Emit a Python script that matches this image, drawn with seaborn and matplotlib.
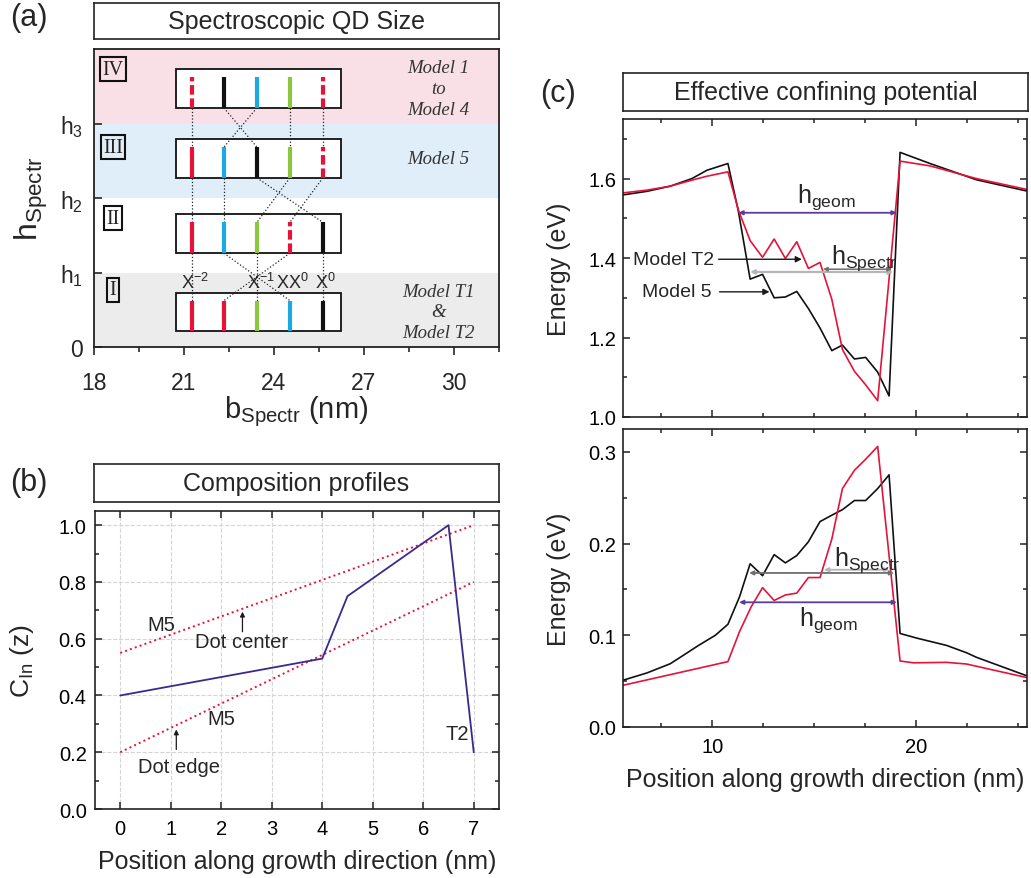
import numpy as np
import pandas as pd
import matplotlib
matplotlib.use("Agg")
import matplotlib.pyplot as plt
import seaborn as sns
from matplotlib.ticker import MultipleLocator, FormatStrFormatter
from matplotlib.patches import Rectangle

sns.set_theme(style="ticks")
plt.rcParams['font.family'] = ['Liberation Sans', 'DejaVu Sans']
plt.rcParams['mathtext.fontset'] = 'custom'
plt.rcParams['mathtext.rm'] = 'Liberation Sans'
plt.rcParams['mathtext.it'] = 'Liberation Sans:italic'
plt.rcParams['mathtext.bf'] = 'Liberation Sans:bold'

# ------------------------------------------------------------------ data
# (a) spectroscopic QD size schematic
a_xticks = [18, 21, 24, 27, 30]
a_yticks = [0, 1, 2, 3]
a_ytick_labels = ['0', r'h$_1$', r'h$_2$', r'h$_3$']
a_levels = ['IV', 'III', 'II', 'I']
a_band_lower = [3, 2, 1, 0]
a_band_colors = ['#f8e0e6', '#e0eef9', '#ffffff', '#ececec']
a_box_center = [3.47, 2.53, 1.52, 0.47]
a_line_x = [21.27, 22.33, 23.43, 24.53, 25.63]
a_codes = {
    'IV':  ['Rd', 'K', 'C', 'G', 'Rd'],
    'III': ['R', 'C', 'K', 'G', 'Rd'],
    'II':  ['R', 'C', 'G', 'Rd', 'K'],
    'I':   ['R', 'R', 'G', 'C', 'K'],
}
# connections: index in upper box -> index in lower box
a_links = [
    [0, 2, 1, 3, 4],   # IV -> III
    [0, 1, 4, 2, 3],   # III -> II
    [0, 3, 2, 1, 4],   # II -> I
]
a_models = ['Model 1\nto\nModel 4', 'Model 5', '', 'Model T1\n&\nModel T2']
a_exciton_labels = [r'X$^{-2}$', r'X$^{-1}$', r'XX$^{0}$', r'X$^{0}$']
a_exciton_x = [21.37, 23.55, 24.62, 25.72]

# (b) composition profiles
b_pos_T2 = [0, 4, 4.5, 6.5, 7]
b_cin_T2 = [0.40, 0.53, 0.75, 1.00, 0.20]
b_pos_M5 = [0, 7]
b_cin_M5_center = [0.55, 1.00]
b_cin_M5_edge = [0.20, 0.80]

# (c) effective confining potential - electrons (top)
c_x_e_M5 = [5.62, 6.8, 7.94, 9.0, 9.74, 10.77, 11.29, 11.86, 12.47, 13.04, 13.59,
            14.15, 14.72, 15.29, 15.87, 16.39, 16.98, 17.53, 18.12, 18.68, 19.22,
            20.69, 22.97, 25.42]
c_e_M5 = [1.559, 1.568, 1.581, 1.600, 1.621, 1.638, 1.516, 1.347, 1.359, 1.300, 1.302,
          1.316, 1.273, 1.224, 1.167, 1.181, 1.146, 1.150, 1.113, 1.053, 1.666,
          1.638, 1.597, 1.569]
c_x_e_T2 = [5.62, 6.8, 7.94, 9.0, 9.74, 10.77, 11.29, 11.86, 12.47, 13.04, 13.59,
            14.15, 14.72, 15.29, 15.87, 16.39, 16.98, 17.53, 18.12, 19.22,
            20.69, 22.97, 25.42]
c_e_T2 = [1.564, 1.571, 1.581, 1.596, 1.606, 1.617, 1.520, 1.444, 1.402, 1.448, 1.399,
          1.441, 1.374, 1.389, 1.296, 1.170, 1.115, 1.081, 1.041, 1.644,
          1.632, 1.600, 1.573]
# holes (bottom)
c_x_h_M5 = [5.62, 6.8, 7.94, 8.43, 9.33, 10.15, 10.77, 11.34, 11.86, 12.47, 13.04,
            13.59, 14.15, 14.72, 15.29, 15.87, 16.39, 16.98, 17.53, 18.12, 18.68,
            19.22, 20.03, 21.5, 22.48, 22.97, 25.42]
c_h_M5 = [0.051, 0.059, 0.069, 0.076, 0.089, 0.100, 0.112, 0.142, 0.178, 0.165, 0.188,
          0.179, 0.187, 0.202, 0.224, 0.231, 0.237, 0.247, 0.247, 0.260, 0.275,
          0.102, 0.097, 0.089, 0.081, 0.076, 0.056]
c_x_h_T2 = [5.62, 7.94, 10.77, 11.34, 11.91, 12.47, 13.04, 13.59, 14.15, 14.72, 15.29,
            15.87, 16.39, 16.98, 17.53, 18.12, 19.22, 19.87, 21.5, 22.48, 25.42]
c_h_T2 = [0.0455, 0.0571, 0.0713, 0.104, 0.131, 0.152, 0.138, 0.144, 0.146, 0.163, 0.163,
          0.205, 0.260, 0.280, 0.292, 0.306, 0.072, 0.070, 0.0705, 0.0687, 0.054]

# ------------------------------------------------------------------ figure
W, H = 1031, 879
fig = plt.figure(figsize=(W / 100, H / 100), dpi=100)

RED = '#e5133a'
CYAN = '#1ca8e3'
GREEN = '#8dc63f'
BLACK = '#111111'
PURPLE = '#5a3b9e'
color_map = {'R': RED, 'Rd': RED, 'K': BLACK, 'C': CYAN, 'G': GREEN}

TITLE_FS = 18
LABEL_FS = 18
TICK_FS = 14.5
ANNOT_FS = 14.5


def frac(x0, y0, x1, y1):
    return [x0 / W, 1 - y1 / H, (x1 - x0) / W, (y1 - y0) / H]


def title_box(rect, text):
    ax = fig.add_axes(rect)
    ax.set_xticks([])
    ax.set_yticks([])
    for s in ax.spines.values():
        s.set_linewidth(1.2)
        s.set_color('#222222')
    ax.text(0.5, 0.5, text, ha='center', va='center', fontsize=TITLE_FS,
            transform=ax.transAxes)
    return ax


def style_in(ax, labelsize=TICK_FS, xpad=7, ypad=5):
    ax.tick_params(which='both', direction='in', top=True, right=True,
                   width=1.1, colors='#222222', labelcolor='black')
    ax.tick_params(which='major', length=5)
    ax.tick_params(which='minor', length=3)
    ax.tick_params(axis='x', labelsize=labelsize, pad=xpad)
    ax.tick_params(axis='y', labelsize=labelsize, pad=ypad)
    for s in ax.spines.values():
        s.set_linewidth(1.2)
        s.set_color('#222222')


# ---------------- panel (a)
title_box(frac(94, 4, 499, 40), 'Spectroscopic QD Size')
axA = fig.add_axes(frac(94, 50, 499, 348))
axA.set_xlim(18, 31.5)
axA.set_ylim(0, 4)
for lo, c in zip(a_band_lower, a_band_colors):
    axA.axhspan(lo, lo + 1, color=c, lw=0, zorder=0)

half_h = 0.26
line_gap = 0.107
for lev, yc in zip(a_levels, a_box_center):
    axA.add_patch(Rectangle((20.73, yc - half_h), 5.5, 2 * half_h, fc='white',
                            ec='#111111', lw=1.3, zorder=2))
    for xi, code in zip(a_line_x, a_codes[lev]):
        ln, = axA.plot([xi, xi], [yc - half_h, yc + half_h - line_gap],
                       color=color_map[code], lw=3.0, solid_capstyle='butt',
                       zorder=4)
        if code == 'Rd':
            ln.set_dashes((2.3, 0.9))
            ln.set_dash_capstyle('butt')

for k, links in enumerate(a_links):
    y_top = a_box_center[k] - half_h
    y_bot = a_box_center[k + 1] + half_h - line_gap
    for i, j in enumerate(links):
        axA.plot([a_line_x[i], a_line_x[j]], [y_top, y_bot], ls=':',
                 color='#222222', lw=0.9, zorder=3)

for lab, xx in zip(a_exciton_labels, a_exciton_x):
    axA.text(xx, 0.87, lab, ha='center', va='center', fontsize=13, zorder=5)

for txt, yc in zip(a_models, a_box_center):
    if txt:
        axA.text(29.47, yc, txt, ha='center', va='center', fontsize=13.5,
                 family='Liberation Serif', style='italic', color='#333333',
                 linespacing=1.3)

a_numeral_y = [3.73, 2.68, 1.73, 0.77]
for lev, yy in zip(a_levels, a_numeral_y):
    axA.text(18.63, yy, lev, ha='center', va='center', fontsize=14.5,
             family='Liberation Serif', color='#222222',
             bbox=dict(boxstyle='square,pad=0.12', fc='none', ec='#111111', lw=1.5))

axA.set_xticks(a_xticks)
axA.xaxis.set_minor_locator(MultipleLocator(1.5))
axA.set_yticks(a_yticks)
axA.set_yticklabels(a_ytick_labels)
axA.tick_params(axis='x', which='both', direction='out', bottom=True, top=False,
                width=1.2, labelsize=16.5, pad=11)
axA.tick_params(axis='x', which='major', length=6)
axA.tick_params(axis='x', which='minor', length=3.5)
axA.tick_params(axis='y', which='both', direction='in', left=True, right=False,
                length=6, width=1.2, labelsize=16.5, pad=8)
for s in axA.spines.values():
    s.set_linewidth(1.3)
    s.set_color('#222222')
axA.set_xlabel(r'b$_{\mathrm{Spectr}}$ (nm)', fontsize=21, labelpad=0)
axA.set_ylabel(r'h$_{\mathrm{Spectr}}$', fontsize=23, labelpad=7)

# ---------------- panel (b)
title_box(frac(94, 465, 499, 503), 'Composition profiles')
axB = fig.add_axes(frac(95, 512, 499, 810))
sns.lineplot(x=b_pos_M5, y=b_cin_M5_center, ax=axB, color=RED, linestyle=':',
             lw=1.4, sort=False, estimator=None)
sns.lineplot(x=b_pos_M5, y=b_cin_M5_edge, ax=axB, color=RED, linestyle=':',
             lw=1.4, sort=False, estimator=None)
sns.lineplot(x=b_pos_T2, y=b_cin_T2, ax=axB, color='#3b2a8c', lw=1.3,
             sort=False, estimator=None)
axB.set_xlim(-0.5, 7.5)
axB.set_ylim(0, 1.05)
axB.xaxis.set_major_locator(MultipleLocator(1))
axB.yaxis.set_major_locator(MultipleLocator(0.2))
axB.yaxis.set_minor_locator(MultipleLocator(0.1))
axB.grid(True, which='major', ls='--', color='#d5d5d5', lw=0.8)
axB.set_axisbelow(True)
style_in(axB, xpad=7, ypad=6)
axB.yaxis.set_major_formatter(FormatStrFormatter('%.1f'))
axB.set_xlabel('Position along growth direction (nm)', fontsize=LABEL_FS, labelpad=8)
axB.set_ylabel(r'C$_{\mathrm{In}}$ (z)', fontsize=LABEL_FS + 1, labelpad=16)

axB.text(0.81, 0.65, 'M5', ha='center', va='center', fontsize=ANNOT_FS)
axB.text(2.4, 0.59, 'Dot center', ha='center', va='center', fontsize=ANNOT_FS)
axB.annotate('', xy=(2.42, 0.705), xytext=(2.42, 0.615),
             arrowprops=dict(arrowstyle='-|>', color='k', lw=0.9, mutation_scale=7))
axB.text(2.0, 0.32, 'M5', ha='center', va='center', fontsize=ANNOT_FS)
axB.text(1.16, 0.15, 'Dot edge', ha='center', va='center', fontsize=ANNOT_FS)
axB.annotate('', xy=(1.11, 0.29), xytext=(1.11, 0.20),
             arrowprops=dict(arrowstyle='-|>', color='k', lw=0.9, mutation_scale=7))
axB.text(6.68, 0.265, 'T2', ha='center', va='center', fontsize=ANNOT_FS)

# ---------------- panel (c)
title_box(frac(623, 74, 1028, 112), 'Effective confining potential')
axC1 = fig.add_axes(frac(623, 120, 1027, 418))
axC2 = fig.add_axes(frac(623, 430, 1027, 728))

sns.lineplot(x=c_x_e_M5, y=c_e_M5, ax=axC1, color=BLACK, lw=1.2, sort=False, estimator=None)
sns.lineplot(x=c_x_e_T2, y=c_e_T2, ax=axC1, color=RED, lw=1.2, sort=False, estimator=None)
sns.lineplot(x=c_x_h_M5, y=c_h_M5, ax=axC2, color=BLACK, lw=1.2, sort=False, estimator=None)
sns.lineplot(x=c_x_h_T2, y=c_h_T2, ax=axC2, color=RED, lw=1.2, sort=False, estimator=None)

for ax in (axC1, axC2):
    ax.set_xlim(5.62, 25.45)
    ax.xaxis.set_major_locator(MultipleLocator(10))
    ax.xaxis.set_minor_locator(MultipleLocator(2.5))
    style_in(ax, xpad=7, ypad=5)
    ax.set_ylabel('Energy (eV)', fontsize=LABEL_FS, labelpad=12)

axC1.set_ylim(1.0, 1.75)
axC1.yaxis.set_major_locator(MultipleLocator(0.2))
axC1.yaxis.set_minor_locator(MultipleLocator(0.1))
axC1.yaxis.set_major_formatter(FormatStrFormatter('%.1f'))
axC1.tick_params(axis='x', labelbottom=False)
axC1.set_xlabel('')

axC2.set_ylim(0, 0.325)
axC2.yaxis.set_major_locator(MultipleLocator(0.1))
axC2.yaxis.set_minor_locator(MultipleLocator(0.05))
axC2.yaxis.set_major_formatter(FormatStrFormatter('%.1f'))
axC2.set_xlabel('Position along growth direction (nm)', fontsize=LABEL_FS, labelpad=8)


def dbl_arrow(ax, x0, x1, y, color, lw):
    ax.annotate('', xy=(x1, y), xytext=(x0, y),
                arrowprops=dict(arrowstyle='<|-|>', color=color, lw=lw,
                                mutation_scale=6, shrinkA=0, shrinkB=0))


H_FS = 18
# top annotations
dbl_arrow(axC1, 11.29, 19.05, 1.514, PURPLE, 1.3)
dbl_arrow(axC1, 11.86, 18.88, 1.365, '#b5b5b5', 1.6)
dbl_arrow(axC1, 15.44, 18.82, 1.372, '#6e6e6e', 1.1)
axC1.text(14.15, 1.541, r'h$_{\mathrm{geom}}$', fontsize=H_FS, ha='left', va='baseline')
axC1.text(15.85, 1.389, r'h$_{\mathrm{Spectr}}$', fontsize=H_FS, ha='left', va='baseline')
axC1.text(10.1, 1.397, 'Model T2', fontsize=14, ha='right', va='center')
axC1.annotate('', xy=(14.4, 1.397), xytext=(10.31, 1.397),
              arrowprops=dict(arrowstyle='-|>', color='k', lw=1.0, mutation_scale=9,
                              shrinkA=0, shrinkB=0))
axC1.text(9.98, 1.315, 'Model 5', fontsize=14, ha='right', va='center')
axC1.annotate('', xy=(12.81, 1.315), xytext=(10.36, 1.315),
              arrowprops=dict(arrowstyle='-|>', color='k', lw=1.0, mutation_scale=9,
                              shrinkA=0, shrinkB=0))

# bottom annotations
dbl_arrow(axC2, 11.81, 18.92, 0.168, '#6e6e6e', 1.3)
dbl_arrow(axC2, 15.49, 18.68, 0.1715, '#b5b5b5', 1.3)
dbl_arrow(axC2, 11.32, 19.06, 0.136, PURPLE, 1.3)
axC2.text(15.98, 0.1764, r'h$_{\mathrm{Spectr}}$', fontsize=H_FS, ha='left', va='baseline')
axC2.text(14.28, 0.111, r'h$_{\mathrm{geom}}$', fontsize=H_FS, ha='left', va='baseline')

# panel letters
fig.text(10 / W, 1 - 3 / H, '(a)', fontsize=22, ha='left', va='top')
fig.text(10 / W, 1 - 468 / H, '(b)', fontsize=22, ha='left', va='top')
fig.text(540 / W, 1 - 79 / H, '(c)', fontsize=22, ha='left', va='top')

fig.savefig('out.png', dpi=100)
